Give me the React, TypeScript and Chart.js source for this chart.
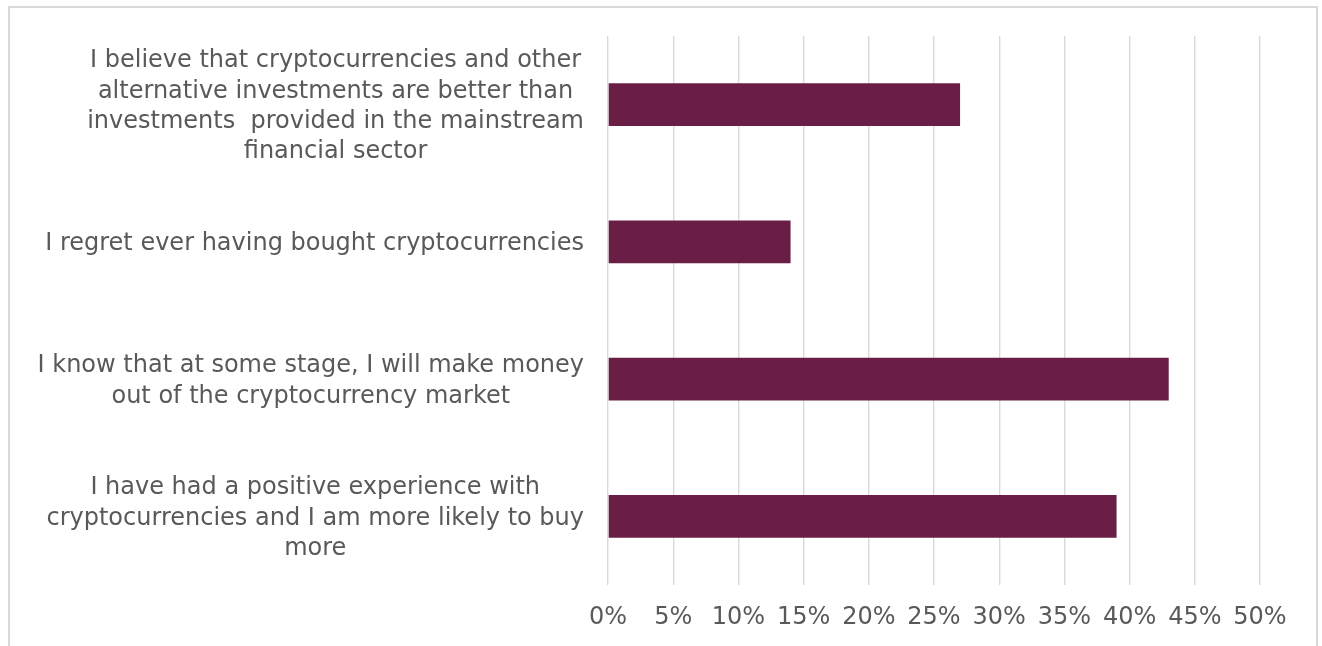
import React, { useEffect, useRef } from "react";
import { Chart, registerables } from "chart.js";

Chart.register(...registerables);

const categories: string[][] = [
  [
    "I believe that cryptocurrencies and other",
    "alternative investments are better than",
    "investments  provided in the mainstream",
    "financial sector",
  ],
  ["I regret ever having bought cryptocurrencies"],
  ["I know that at some stage, I will make money", "out of the cryptocurrency market"],
  [
    "I have had a positive experience with",
    "cryptocurrencies and I am more likely to buy",
    "more",
  ],
];

const values: number[] = [27, 14, 43, 39];

const xTickMin = 0;
const xTickMax = 50;
const xTickStep = 5;

const FONT = '"DejaVu Sans", Verdana, sans-serif';
const FONT_SIZE = 24;
const TEXT = "#595959";
const GRID = "#d9d9d9";
const BAR = "#6A1E46";

const yLabelPlugin = {
  id: "centeredYLabels",
  afterDraw(chart: any) {
    const ctx = chart.ctx;
    const yScale = chart.scales.y;
    const left = chart.chartArea.left;
    ctx.save();
    ctx.font = `${FONT_SIZE}px ${FONT}`;
    ctx.fillStyle = TEXT;
    ctx.textAlign = "center";
    ctx.textBaseline = "middle";
    const lineH = 30.3;
    categories.forEach((lines, i) => {
      const widest = Math.max(...lines.map((l) => ctx.measureText(l).width));
      const cx = left - 24 - widest / 2;
      const cy = yScale.getPixelForValue(i) + 2;
      lines.forEach((line, j) => {
        const ly = cy + (j - (lines.length - 1) / 2) * lineH;
        ctx.fillText(line, cx, ly);
      });
    });
    ctx.restore();
  },
};

export default function App() {
  const ref = useRef<HTMLCanvasElement>(null);

  useEffect(() => {
    if (!ref.current) return;
    const chart = new Chart(ref.current, {
      type: "bar",
      data: {
        labels: categories,
        datasets: [
          {
            data: values,
            backgroundColor: BAR,
            borderWidth: 0,
            barPercentage: 0.313,
            categoryPercentage: 1,
          },
        ],
      },
      options: {
        indexAxis: "y",
        animation: false,
        responsive: false,
        maintainAspectRatio: false,
        layout: { padding: { top: 28, right: 56, left: 0, bottom: 0 } },
        plugins: {
          legend: { display: false },
          tooltip: { enabled: false },
        },
        scales: {
          x: {
            min: xTickMin,
            max: xTickMax,
            ticks: {
              stepSize: xTickStep,
              callback: (v: any) => `${v}%`,
              font: { family: FONT, size: FONT_SIZE },
              color: TEXT,
              padding: 18,
              maxRotation: 0,
              autoSkip: false,
            },
            grid: { color: GRID, lineWidth: 1.4, drawTicks: false },
            border: { display: false },
            afterFit: (s: any) => {
              s.height = 61;
            },
          },
          y: {
            ticks: { display: false },
            grid: { display: false, drawTicks: false },
            border: { display: false },
            afterFit: (s: any) => {
              s.width = 598;
            },
          },
        },
      },
      plugins: [yLabelPlugin],
    });
    return () => chart.destroy();
  }, []);

  return (
    <div
      style={{
        position: "absolute",
        left: 8,
        top: 6,
        width: 1310,
        height: 640,
        border: `2px solid ${GRID}`,
        borderBottom: "none",
        boxSizing: "border-box",
        background: "#fff",
      }}
    >
      <canvas ref={ref} width={1306} height={638} style={{ display: "block", width: 1306, height: 638 }} />
    </div>
  );
}
